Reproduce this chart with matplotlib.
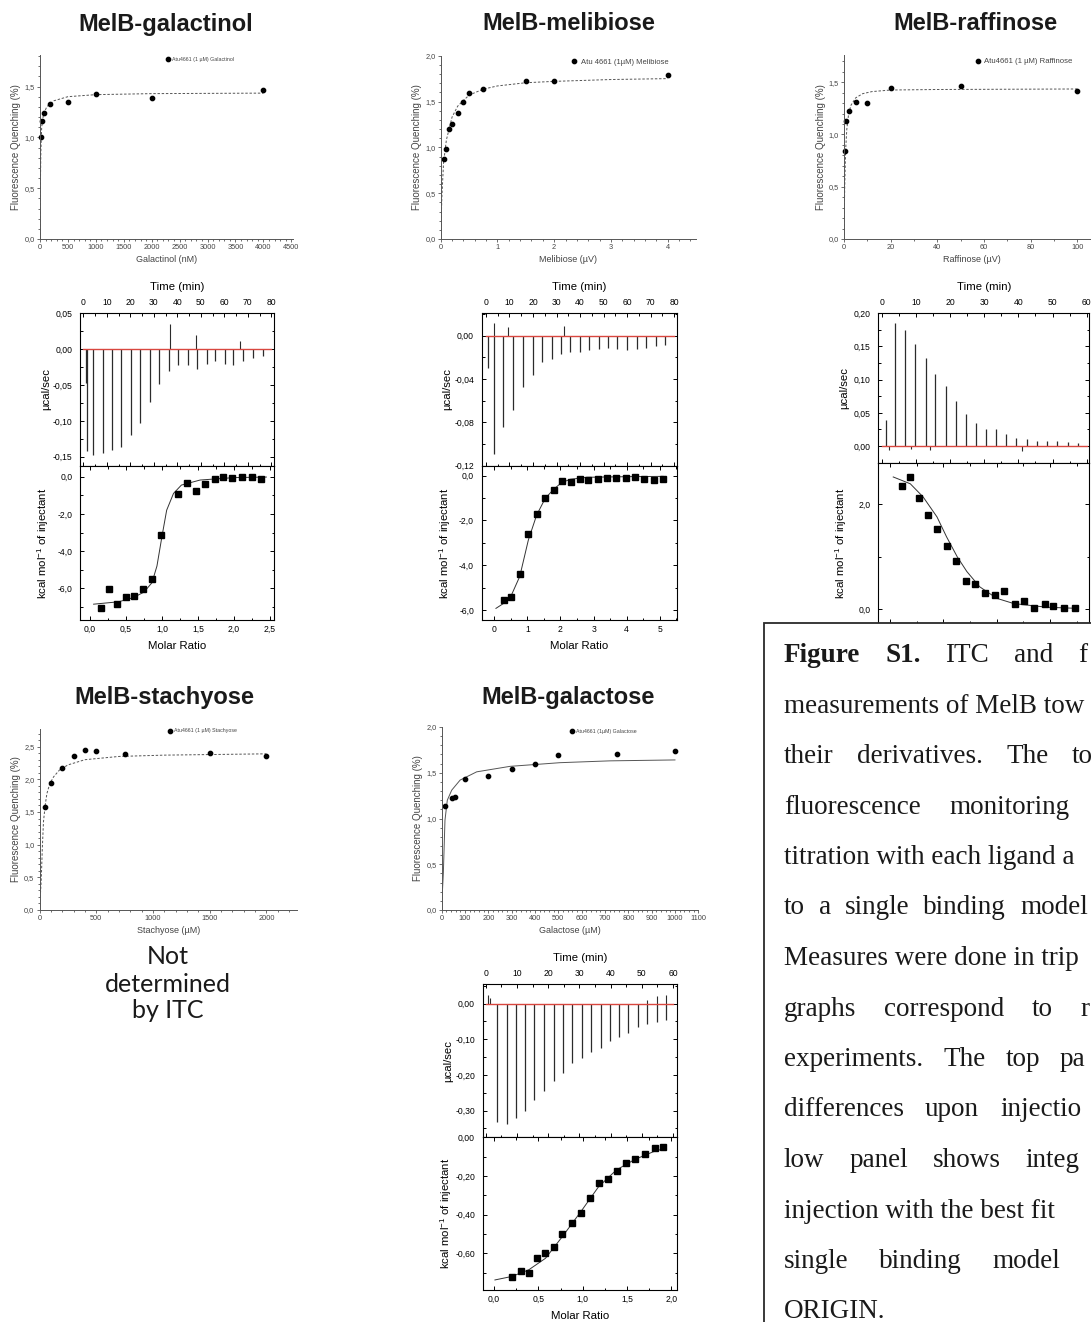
import matplotlib
matplotlib.use("Agg")
import matplotlib.pyplot as plt
from matplotlib.patches import Rectangle
from matplotlib.ticker import AutoMinorLocator, FuncFormatter, MultipleLocator

# ---------------- values ----------------
# fluorescence titrations (quenching %, ligand concentration)
galactinol_x = [10, 30, 80, 180, 500, 1000, 2000, 4000]
galactinol_y = [1.00, 1.16, 1.24, 1.33, 1.35, 1.43, 1.39, 1.47]
galactinol_fit_x = [0, 5, 15, 30, 60, 120, 250, 500, 1000, 2000, 4000]
galactinol_fit_y = [0, 0.45, 0.85, 1.10, 1.22, 1.30, 1.36, 1.40, 1.42, 1.43, 1.435]

melibiose_x = [0.05, 0.1, 0.15, 0.2, 0.3, 0.4, 0.5, 0.75, 1.5, 2.0, 4.0]
melibiose_y = [0.87, 0.98, 1.20, 1.25, 1.38, 1.49, 1.59, 1.64, 1.72, 1.72, 1.79]
melibiose_fit_x = [0, 0.02, 0.05, 0.1, 0.2, 0.3, 0.5, 0.75, 1.0, 1.5, 2.0, 3.0, 4.0]
melibiose_fit_y = [0, 0.45, 0.83, 1.08, 1.33, 1.45, 1.57, 1.635, 1.67, 1.705, 1.72, 1.74, 1.75]

raffinose_x = [0.5, 1, 2, 5, 10, 20, 50, 100]
raffinose_y = [0.84, 1.13, 1.22, 1.31, 1.30, 1.44, 1.46, 1.42]
raffinose_fit_x = [0, 0.3, 0.7, 1.2, 2, 3, 5, 8, 12, 20, 40, 100]
raffinose_fit_y = [0, 0.5, 0.85, 1.05, 1.2, 1.28, 1.35, 1.39, 1.41, 1.425, 1.43, 1.435]

stachyose_x = [50, 100, 200, 300, 400, 500, 750, 1500, 2000]
stachyose_y = [1.58, 1.94, 2.17, 2.36, 2.45, 2.44, 2.39, 2.41, 2.36]
stachyose_fit_x = [0, 15, 25, 35, 50, 65, 90, 125, 175, 250, 400, 700, 1100, 2000]
stachyose_fit_y = [0, 0.45, 0.95, 1.35, 1.6, 1.78, 1.93, 2.04, 2.14, 2.22, 2.30, 2.35, 2.37, 2.39]

galactose_x = [15, 45, 55, 100, 200, 300, 400, 500, 750, 1000]
galactose_y = [1.14, 1.22, 1.23, 1.43, 1.46, 1.54, 1.60, 1.69, 1.71, 1.74]
galactose_fit_x = [0, 3, 7, 14, 24, 43, 79, 150, 293, 507, 721, 1000]
galactose_fit_y = [0, 0.2, 0.4, 0.98, 1.2, 1.31, 1.42, 1.51, 1.57, 1.61, 1.63, 1.64]

# ITC raw thermograms: injection peaks (min, ucal/sec)
galactinol_peak_t = [1.0, 1.7, 4.0, 8.2, 12.2, 16.2, 20.1, 24.1, 28.4, 32.3, 36.6,
                     40.4, 44.4, 48.2, 52.5, 56.0, 60.3, 63.8, 68.1, 72.3, 76.6]
galactinol_peak_h = [-0.047, -0.142, -0.148, -0.145, -0.140, -0.137, -0.119, -0.103,
                     -0.073, -0.048, -0.030, -0.022, -0.022, -0.028, -0.020, -0.016,
                     -0.020, -0.022, -0.016, -0.013, -0.010]
galactinol_spike_t = [37.0, 48.0, 66.5]
galactinol_spike_h = [0.035, 0.020, 0.012]
galactinol_run = [0, 80]

melibiose_peak_t = [1.0, 3.5, 7.4, 11.6, 15.9, 19.9, 24.0, 27.9, 31.9, 35.7, 39.9,
                    43.8, 48.1, 52.1, 55.9, 59.9, 64.1, 68.1, 72.2, 76.2]
melibiose_peak_h = [-0.030, -0.109, -0.084, -0.069, -0.047, -0.036, -0.024, -0.022,
                    -0.017, -0.015, -0.015, -0.013, -0.012, -0.011, -0.012, -0.013,
                    -0.012, -0.011, -0.010, -0.009]
melibiose_spike_t = [3.5, 9.5, 33.0]
melibiose_spike_h = [0.012, 0.008, 0.009]
melibiose_run = [0, 80]

raffinose_peak_t = [1.3, 3.9, 6.8, 9.8, 12.9, 15.6, 18.7, 21.7, 24.6, 27.6, 30.5,
                    33.5, 36.4, 39.3, 42.4, 45.4, 48.3, 51.2, 54.4, 57.3]
raffinose_peak_h = [0.039, 0.185, 0.175, 0.153, 0.132, 0.108, 0.090, 0.068, 0.048,
                    0.035, 0.025, 0.025, 0.018, 0.012, 0.010, 0.008, 0.008, 0.007,
                    0.006, 0.005]
raffinose_spike_t = [2.0, 8.5, 14.0, 41.0]
raffinose_spike_h = [-0.006, -0.005, -0.006, -0.007]
raffinose_run = [0, 60]

galactose_peak_t = [3.7, 6.7, 9.7, 12.6, 15.5, 18.8, 21.8, 24.7, 27.7, 30.7, 33.6,
                    36.9, 39.8, 42.8, 45.7, 48.7, 51.7, 54.8, 57.9]
galactose_peak_h = [-0.331, -0.338, -0.322, -0.300, -0.270, -0.245, -0.218, -0.195,
                    -0.168, -0.153, -0.135, -0.125, -0.105, -0.093, -0.083, -0.065,
                    -0.058, -0.053, -0.045]
galactose_spike_t = [0.6, 1.3, 51.7, 54.8, 57.9]
galactose_spike_h = [0.025, 0.015, 0.010, 0.020, 0.025]
galactose_run = [0, 60]

# ITC integrated heats (molar ratio, kcal/mol of injectant)
galactinol_ratio = [0.148, 0.264, 0.380, 0.500, 0.616, 0.731, 0.856, 0.981, 1.227,
                    1.343, 1.468, 1.597, 1.736, 1.852, 1.977, 2.116, 2.245, 2.375]
galactinol_heat = [-7.07, -6.05, -6.84, -6.48, -6.39, -6.03, -5.51, -3.11, -0.93,
                   -0.36, -0.77, -0.39, -0.13, -0.04, -0.09, 0.0, -0.04, -0.13]
galactinol_hfit_x = [0.05, 0.4, 0.6, 0.75, 0.86, 0.93, 1.0, 1.065, 1.16, 1.27, 1.53, 2.0, 2.45]
galactinol_hfit_y = [-6.85, -6.72, -6.5, -6.2, -5.7, -4.8, -3.2, -1.8, -0.9, -0.45, -0.18, -0.05, -0.02]

melibiose_ratio = [0.29, 0.52, 0.77, 1.03, 1.28, 1.54, 1.80, 2.06, 2.33, 2.58, 2.84,
                   3.14, 3.41, 3.69, 3.97, 4.24, 4.53, 4.82, 5.10]
melibiose_heat = [-5.55, -5.43, -4.39, -2.61, -1.72, -1.01, -0.64, -0.24, -0.27, -0.15,
                  -0.18, -0.15, -0.12, -0.12, -0.09, -0.06, -0.15, -0.18, -0.13]
melibiose_hfit_x = [0.05, 0.29, 0.52, 0.77, 1.03, 1.28, 1.54, 1.80, 2.03, 2.3, 2.8, 4.2, 5.1]
melibiose_hfit_y = [-5.93, -5.7, -5.33, -4.5, -2.87, -1.76, -1.01, -0.6, -0.31, -0.16, -0.07, -0.04, -0.03]

raffinose_ratio = [0.11, 0.19, 0.275, 0.36, 0.44, 0.53, 0.62, 0.71, 0.80, 0.89, 0.98,
                   1.07, 1.17, 1.26, 1.35, 1.45, 1.53, 1.63, 1.73]
raffinose_heat = [2.34, 2.51, 2.11, 1.79, 1.53, 1.21, 0.92, 0.54, 0.48, 0.32, 0.28,
                  0.35, 0.11, 0.16, 0.03, 0.11, 0.06, 0.03, 0.03]
raffinose_hfit_x = [0.03, 0.19, 0.31, 0.44, 0.53, 0.63, 0.72, 0.84, 1.0, 1.16, 1.47, 1.74]
raffinose_hfit_y = [2.52, 2.39, 2.14, 1.76, 1.38, 1.0, 0.72, 0.43, 0.21, 0.11, 0.04, 0.02]

galactose_ratio = [0.20, 0.30, 0.39, 0.48, 0.58, 0.68, 0.77, 0.88, 0.98, 1.08, 1.18,
                   1.28, 1.39, 1.49, 1.59, 1.70, 1.81, 1.91]
galactose_heat = [-0.721, -0.691, -0.703, -0.622, -0.600, -0.569, -0.502, -0.445, -0.390,
                  -0.316, -0.234, -0.215, -0.172, -0.131, -0.110, -0.086, -0.057, -0.052]
galactose_hfit_x = [0.01, 0.2, 0.39, 0.58, 0.77, 0.98, 1.18, 1.38, 1.59, 1.80, 1.93]
galactose_hfit_y = [-0.738, -0.72, -0.686, -0.626, -0.514, -0.384, -0.255, -0.169, -0.114, -0.074, -0.057]

caption_lines = [
    (["Figure", "S1.", "ITC", "and", "f"], 1078, 2),
    (["measurements of MelB tow"], None, 0),
    (["their", "derivatives.", "The", "to"], 1072, 0),
    (["fluorescence", "monitoring"], 949, 0),
    (["titration with each ligand a"], None, 0),
    (["to", "a", "single", "binding", "model"], 1020, 0),
    (["Measures were done in trip"], None, 0),
    (["graphs", "correspond", "to", "r"], 1080, 0),
    (["experiments.", "The", "top", "pa"], 1060, 0),
    (["differences", "upon", "injectio"], 1000, 0),
    (["low", "panel", "shows", "integ"], 1025, 0),
    (["injection with the best fit"], None, 0),
    (["single", "binding", "model"], 992, 0),
    (["ORIGIN."], None, 0),
]

# ---------------- figure ----------------
W, H = 1091, 1322
plt.rcParams['font.family'] = ['Liberation Sans', 'DejaVu Sans']
plt.rcParams['mathtext.fontset'] = 'custom'
plt.rcParams['mathtext.rm'] = 'Liberation Sans'
plt.rcParams['mathtext.it'] = 'Liberation Sans:italic'

fig = plt.figure(figsize=(W / 100, H / 100), dpi=100, facecolor='white')


def px_axes(l, t, r, b):
    return fig.add_axes([l / W, 1 - b / H, (r - l) / W, (b - t) / H])


def comma_fmt(dec):
    def f(v, pos):
        if abs(v) < 1e-9:
            v = 0.0
        return f"{v:.{dec}f}".replace('.', ',')
    return FuncFormatter(f)


def fluo_panel(box, x, y, fx, fy, xlim, ylim, xstep, xminor, xlabel, legend,
               anchor, leg_size, fit_ls):
    l, t, r, b = box
    ax = px_axes(*box)
    ax.plot(fx, fy, color='#555555', lw=0.7, ls=fit_ls)
    ax.plot(x, y, 'o', color='black', ms=3.1, label=legend, clip_on=False)
    ax.set_xlim(*xlim)
    ax.set_ylim(*ylim)
    ax.xaxis.set_major_locator(MultipleLocator(xstep))
    ax.xaxis.set_minor_locator(AutoMinorLocator(xminor))
    ax.yaxis.set_major_locator(MultipleLocator(0.5))
    ax.yaxis.set_minor_locator(AutoMinorLocator(5))
    ax.yaxis.set_major_formatter(comma_fmt(1))
    for s in ['top', 'right']:
        ax.spines[s].set_visible(False)
    for s in ['left', 'bottom']:
        ax.spines[s].set_color('#555555')
        ax.spines[s].set_linewidth(0.7)
    ax.tick_params(which='both', direction='out', colors='#555555',
                   labelcolor='#444444', labelsize=5.3, width=0.6, pad=1.5)
    ax.tick_params(which='major', length=2.2)
    ax.tick_params(which='minor', length=1.2)
    ax.set_xlabel(xlabel, fontsize=6.5, color='#444444')
    ax.xaxis.set_label_coords(0.5, -16 / (b - t))
    ax.set_ylabel('Fluorescence Quenching (%)', fontsize=7, color='#444444')
    ax.yaxis.set_label_coords(-18.5 / (r - l), 0.5)
    ax.legend(loc='center left', bbox_to_anchor=anchor, frameon=False,
              fontsize=leg_size, handlelength=0.6, handletextpad=0.5,
              borderpad=0, borderaxespad=0, labelcolor='#444444')
    return ax


def itc_panel(top_box, bot_box, pk_t, pk_h, sp_t, sp_h, run, t_lim, raw_lim,
              raw_step, raw_dec, ratio, heat, hfx, hfy, r_lim, r_step, r_dec,
              h_lim, h_step, h_dec, show_bottom=True):
    # raw power trace
    l, t, r, b = top_box
    ax1 = px_axes(*top_box)
    ax1.vlines(pk_t, 0, pk_h, color='#2b2b2b', lw=0.9)
    ax1.vlines(sp_t, 0, sp_h, color='#2b2b2b', lw=0.8)
    ax1.plot(run, [0, 0], color='#1a1a1a', lw=0.4)
    ax1.plot(run, [0, 0], color='#d9473f', lw=1.0, zorder=3)
    ax1.set_xlim(*t_lim)
    ax1.set_ylim(*raw_lim)
    ax1.xaxis.set_major_locator(MultipleLocator(10))
    ax1.xaxis.set_minor_locator(AutoMinorLocator(2))
    ax1.yaxis.set_major_locator(MultipleLocator(raw_step))
    ax1.yaxis.set_minor_locator(AutoMinorLocator(2))
    ax1.yaxis.set_major_formatter(comma_fmt(raw_dec))
    ax1.tick_params(which='both', direction='in', top=True, bottom=True, left=True,
                    right=True, labeltop=True, labelbottom=False, labelsize=6.2,
                    width=0.7)
    ax1.tick_params(which='major', length=3)
    ax1.tick_params(which='minor', length=1.8)
    ax1.tick_params(axis='x', pad=4.3)
    ax1.tick_params(axis='y', pad=5.5)
    ax1.xaxis.set_label_position('top')
    ax1.set_xlabel('Time (min)', fontsize=8.2)
    ax1.xaxis.set_label_coords(0.5, 1 + 23.5 / (b - t))
    ax1.set_ylabel('µcal/sec', fontsize=8.2)
    ax1.yaxis.set_label_coords(-29 / (r - l), 0.5)
    for s in ax1.spines.values():
        s.set_linewidth(0.8)

    # integrated heats
    l, t, r, b = bot_box
    ax2 = px_axes(*bot_box)
    ax2.plot(hfx, hfy, color='#333333', lw=0.7)
    ax2.plot(ratio, heat, 's', color='black', ms=4.3)
    ax2.set_xlim(*r_lim)
    ax2.set_ylim(*h_lim)
    ax2.xaxis.set_major_locator(MultipleLocator(r_step))
    ax2.xaxis.set_minor_locator(AutoMinorLocator(2))
    ax2.xaxis.set_major_formatter(comma_fmt(r_dec))
    ax2.yaxis.set_major_locator(MultipleLocator(h_step))
    ax2.yaxis.set_minor_locator(AutoMinorLocator(2))
    ax2.yaxis.set_major_formatter(comma_fmt(h_dec))
    ax2.tick_params(which='both', direction='in', top=True, bottom=True, left=True,
                    right=True, labelsize=6.2, width=0.7, labelbottom=show_bottom)
    ax2.tick_params(which='major', length=3)
    ax2.tick_params(which='minor', length=1.8)
    ax2.tick_params(axis='x', pad=3.6)
    ax2.tick_params(axis='y', pad=5.5)
    if show_bottom:
        ax2.set_xlabel('Molar Ratio', fontsize=8.2)
        ax2.xaxis.set_label_coords(0.5, -21 / (b - t))
    ax2.set_ylabel(r'kcal mol$^{\mathregular{-1}}$ of injectant', fontsize=8.2)
    ax2.yaxis.set_label_coords(-29 / (r - l), 0.5)
    for s in ax2.spines.values():
        s.set_linewidth(0.8)
    return ax1, ax2


# fluorescence panels
dash = (0, (2.5, 1.8))
fluo_panel((40, 55, 293, 239), galactinol_x, galactinol_y, galactinol_fit_x,
           galactinol_fit_y, (0, 4530), (0, 1.81), 500, 5, 'Galactinol (nM)',
           'Atu4661 (1 µM) Galactinol', (0.50, 0.978), 3.8, dash)
fluo_panel((440.7, 55.7, 696, 239), melibiose_x, melibiose_y, melibiose_fit_x,
           melibiose_fit_y, (0, 4.5), (0, 2.0), 1, 5, 'Melibiose (µV)',
           'Atu 4661 (1µM) Melibiose', (0.515, 0.966), 5.5, dash)
fluo_panel((844, 55, 1100.7, 239), raffinose_x, raffinose_y, raffinose_fit_x,
           raffinose_fit_y, (0, 110), (0, 1.76), 20, 2, 'Raffinose (µV)',
           'Atu4661 (1 µM) Raffinose', (0.512, 0.964), 5.6, dash)
fluo_panel((39.5, 729, 297, 910), stachyose_x, stachyose_y, stachyose_fit_x,
           stachyose_fit_y, (0, 2270), (0, 2.77), 500, 5, 'Stachyose (µM)',
           'Atu4661 (1 µM) Stachyose', (0.50, 0.989), 3.8, dash)
fluo_panel((441.7, 727, 698.3, 910), galactose_x, galactose_y, galactose_fit_x,
           galactose_fit_y, (0, 1100), (0, 2.0), 100, 5, 'Galactose (µM)',
           'Atu4661 (1µM) Galactose', (0.50, 0.978), 3.8, '-')

# ITC panels
itc_panel((80, 313.3, 274, 465.7), (80, 465.7, 274, 620),
          galactinol_peak_t, galactinol_peak_h, galactinol_spike_t, galactinol_spike_h,
          galactinol_run, (-1.4, 81.1), (-0.1625, 0.05), 0.05, 2,
          galactinol_ratio, galactinol_heat, galactinol_hfit_x, galactinol_hfit_y,
          (-0.139, 2.556), 0.5, 1, (-7.7, 0.59), 2.0, 1)
itc_panel((481.7, 313.3, 676.7, 465.7), (481.7, 465.7, 676.7, 620),
          melibiose_peak_t, melibiose_peak_h, melibiose_spike_t, melibiose_spike_h,
          melibiose_run, (-1.8, 81.1), (-0.12, 0.0206), 0.04, 2,
          melibiose_ratio, melibiose_heat, melibiose_hfit_x, melibiose_hfit_y,
          (-0.38, 5.51), 1, 0, (-6.45, 0.447), 2.0, 1)
itc_panel((878.3, 313.3, 1089.3, 463.3), (878.3, 463.3, 1089.3, 623),
          raffinose_peak_t, raffinose_peak_h, raffinose_spike_t, raffinose_spike_h,
          raffinose_run, (-1.0, 60.75), (-0.026, 0.20), 0.05, 2,
          raffinose_ratio, raffinose_heat, raffinose_hfit_x, raffinose_hfit_y,
          (-0.11, 1.868), 0.5, 1, (-0.26, 2.78), 2.0, 1, show_bottom=False)
itc_panel((482.7, 984.3, 676.7, 1137.3), (482.7, 1137.3, 676.7, 1290),
          galactose_peak_t, galactose_peak_h, galactose_spike_t, galactose_spike_h,
          galactose_run, (-0.96, 61.2), (-0.375, 0.054), 0.10, 2,
          galactose_ratio, galactose_heat, galactose_hfit_x, galactose_hfit_y,
          (-0.128, 2.06), 0.5, 1, (-0.79, 0.0), 0.2, 2)

# panel titles
titles = [('MelB-galactinol', 166, 24), ('MelB-melibiose', 569, 24),
          ('MelB-raffinose', 975, 24), ('MelB-stachyose', 164, 697),
          ('MelB-galactose', 568, 697)]
for txt, x, y in titles:
    fig.text(x / W, 1 - y / H, txt, ha='center', va='center', fontsize=17,
             fontweight='bold', color='#1a1a1a')

for txt, y in [('Not', 957), ('determined', 984), ('by ITC', 1011)]:
    fig.text(168 / W, 1 - y / H, txt, ha='center', va='center', fontsize=18,
             family=['Lato', 'DejaVu Sans'], color='#1a1a1a')

# caption box (runs off the right and bottom edges)
fig.add_artist(Rectangle((764 / W, -0.05), 0.5, 1.05 - 623 / H,
                         transform=fig.transFigure, facecolor='white',
                         edgecolor='#2a2a2a', lw=1.3, zorder=5, clip_on=False))

renderer = fig.canvas.get_renderer()
x0 = 784
for i, (words, x_last, n_bold) in enumerate(caption_lines):
    base = 662 + 50.5 * i
    texts = []
    for j, w in enumerate(words):
        texts.append(fig.text(x0 / W, 1 - base / H, w, fontsize=19.5,
                              family=['Liberation Serif', 'DejaVu Serif'],
                              fontweight='bold' if j < n_bold else 'normal',
                              va='baseline', ha='left', color='#1a1a1a', zorder=6))
    if x_last is not None and len(texts) > 1:
        widths = [tx.get_window_extent(renderer).width for tx in texts]
        gap = (x_last - x0 - sum(widths[:-1])) / (len(texts) - 1)
        x = x0
        for tx, wd in zip(texts, widths):
            tx.set_x(x / W)
            x += wd + gap

fig.savefig('out.png', dpi=100, facecolor='white')
